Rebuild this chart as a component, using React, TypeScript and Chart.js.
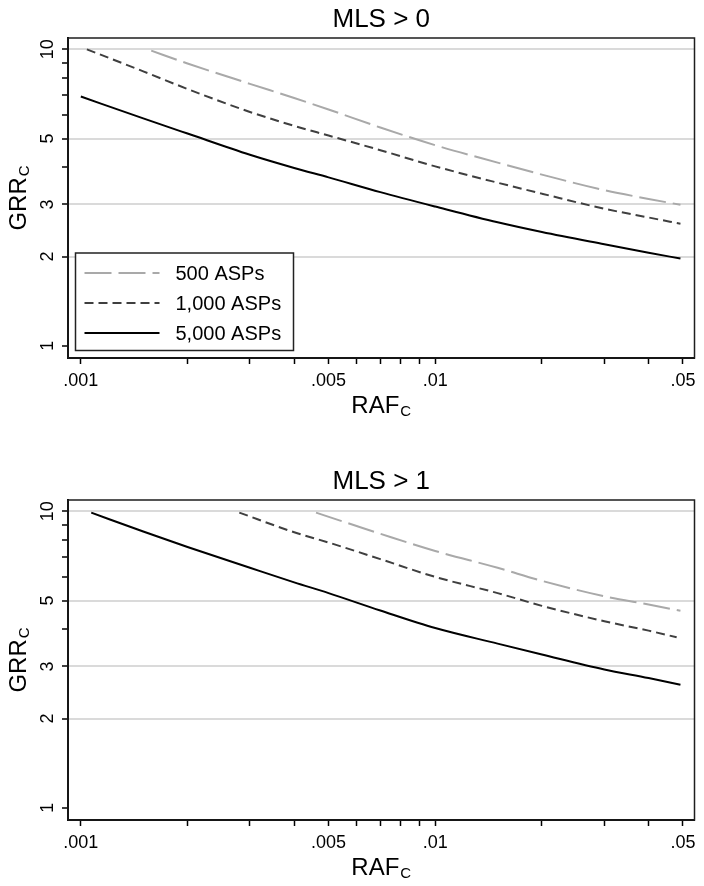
import React, { useEffect, useRef } from "react";
import { Chart, registerables } from "chart.js";

Chart.register(...registerables);

// ---------- data ----------
const SERIES_LABELS = ["500 ASPs", "1,000 ASPs", "5,000 ASPs"];

// Panel 1: MLS > 0
const TOP_TITLE = "MLS > 0";
const TOP_RAF_500 = [0.00158, 0.002, 0.003, 0.004, 0.005, 0.007, 0.01, 0.015, 0.02, 0.03, 0.04, 0.0492];
const TOP_GRR_500 = [9.9, 8.96, 7.65, 6.85, 6.27, 5.45, 4.75, 4.15, 3.78, 3.35, 3.13, 2.99];
const TOP_RAF_1000 = [0.00104, 0.0015, 0.002, 0.003, 0.004, 0.005, 0.007, 0.01, 0.015, 0.02, 0.03, 0.04, 0.0492];
const TOP_GRR_1000 = [10, 8.43, 7.35, 6.15, 5.52, 5.12, 4.57, 4.03, 3.55, 3.26, 2.9, 2.71, 2.58];
const TOP_RAF_5000 = [0.001, 0.0015, 0.002, 0.003, 0.004, 0.005, 0.007, 0.01, 0.015, 0.02, 0.03, 0.04, 0.0492];
const TOP_GRR_5000 = [6.93, 5.85, 5.2, 4.41, 3.98, 3.7, 3.3, 2.95, 2.61, 2.42, 2.2, 2.06, 1.97];

// Panel 2: MLS > 1
const BOTTOM_TITLE = "MLS > 1";
const BOT_RAF_500 = [0.00461, 0.006, 0.007, 0.01, 0.015, 0.02, 0.03, 0.04, 0.0492];
const BOT_GRR_500 = [9.9, 8.92, 8.4, 7.35, 6.45, 5.83, 5.17, 4.85, 4.62];
const BOT_RAF_1000 = [0.0028, 0.004, 0.005, 0.007, 0.01, 0.015, 0.02, 0.03, 0.04, 0.048];
const BOT_GRR_1000 = [9.9, 8.5, 7.85, 6.9, 6.01, 5.3, 4.8, 4.26, 3.96, 3.76];
const BOT_RAF_5000 = [0.00107, 0.0015, 0.002, 0.003, 0.004, 0.005, 0.007, 0.01, 0.015, 0.02, 0.03, 0.04, 0.0492];
const BOT_GRR_5000 = [9.9, 8.55, 7.58, 6.45, 5.76, 5.3, 4.63, 4.04, 3.58, 3.29, 2.93, 2.74, 2.6];

// axes
const X_MIN = 0.00092;
const X_MAX = 0.0539;
const Y_MIN = 0.91;
const Y_MAX = 10.92;
const X_MAJOR = [0.001, 0.005, 0.01, 0.05];
const X_MAJOR_LABELS = [".001", ".005", ".01", ".05"];
const X_MINOR = [0.002, 0.003, 0.004, 0.006, 0.007, 0.008, 0.009, 0.02, 0.03, 0.04];
const Y_MAJOR = [1, 2, 3, 5, 10];
const Y_MAJOR_LABELS = ["1", "2", "3", "5", "10"];
const Y_MINOR = [4, 6, 7, 8, 9];
const Y_GRID = [2, 3, 5, 10];
const X_TITLE = "RAF";
const Y_TITLE = "GRR";
const TITLE_SUB = "C";

// ---------- styles ----------
const FONT = '"Liberation Sans", Arial, Helvetica, sans-serif';
const SERIES_COLORS = ["#a9a9a9", "#3f3f3f", "#000000"];
const SERIES_DASH: number[][] = [[27, 7], [9, 5], []];
const SERIES_WIDTH = [2, 2, 2];

const W = 704;
const AREA_LEFT = 68;
const AREA_RIGHT = 694.5;

function drawSubTitle(ctx: CanvasRenderingContext2D, main: string, sub: string, cx: number, baseY: number) {
  ctx.font = `24px ${FONT}`;
  const w1 = ctx.measureText(main).width;
  ctx.font = `15px ${FONT}`;
  const w2 = ctx.measureText(sub).width;
  const start = cx - (w1 + w2 + 1) / 2;
  ctx.textAlign = "left";
  ctx.textBaseline = "alphabetic";
  ctx.font = `24px ${FONT}`;
  ctx.fillText(main, start, baseY);
  ctx.font = `15px ${FONT}`;
  ctx.fillText(sub, start + w1 + 1, baseY + 2.5);
}

const decorPlugin = {
  id: "decor",
  afterDraw(chart: any, _args: any, opts: any) {
    const { ctx, chartArea: a } = chart;
    ctx.save();
    // frame
    ctx.strokeStyle = "#1e1e1e";
    ctx.lineWidth = 1.5;
    ctx.strokeRect(a.left, a.top, a.right - a.left, a.bottom - a.top);
    ctx.fillStyle = "#000";
    const cx = (a.left + a.right) / 2;
    const cy = (a.top + a.bottom) / 2;
    // panel title
    ctx.font = `26px ${FONT}`;
    ctx.textAlign = "center";
    ctx.textBaseline = "alphabetic";
    ctx.fillText(opts.title, cx, a.top - 11);
    // x title
    drawSubTitle(ctx, X_TITLE, TITLE_SUB, cx, a.bottom + 55);
    // y title
    ctx.save();
    ctx.translate(26, cy);
    ctx.rotate(-Math.PI / 2);
    drawSubTitle(ctx, Y_TITLE, TITLE_SUB, 0, 0);
    ctx.restore();

    // legend
    if (opts.legend) {
      const lx = a.left + 7.5;
      const ly = a.top + 215;
      const lw = 218;
      const lh = 97.5;
      ctx.fillStyle = "#fff";
      ctx.fillRect(lx, ly, lw, lh);
      ctx.strokeStyle = "#222";
      ctx.lineWidth = 1.5;
      ctx.strokeRect(lx, ly, lw, lh);
      chart.data.datasets.forEach((ds: any, i: number) => {
        const ry = ly + 20 + i * 30;
        ctx.save();
        ctx.strokeStyle = ds.borderColor;
        ctx.lineWidth = ds.borderWidth;
        ctx.setLineDash(ds.borderDash || []);
        ctx.beginPath();
        ctx.moveTo(lx + 9, ry);
        ctx.lineTo(lx + 84, ry);
        ctx.stroke();
        ctx.restore();
        ctx.fillStyle = "#000";
        ctx.font = `20px ${FONT}`;
        ctx.textAlign = "left";
        ctx.textBaseline = "middle";
        ctx.fillText(ds.label, lx + 100, ry + 1);
      });
    }
    ctx.restore();
  },
};

type PanelProps = {
  title: string;
  xs: number[][];
  ys: number[][];
  height: number;
  areaTop: number;
  areaBottom: number;
  showLegend: boolean;
};

function Panel({ title, xs, ys, height, areaTop, areaBottom, showLegend }: PanelProps) {
  const ref = useRef<HTMLCanvasElement>(null);
  useEffect(() => {
    const canvas = ref.current!;
    const datasets = SERIES_LABELS.map((label, i) => ({
      label,
      data: xs[i].map((x, j) => ({ x, y: ys[i][j] })),
      borderColor: SERIES_COLORS[i],
      borderWidth: SERIES_WIDTH[i],
      borderDash: SERIES_DASH[i],
      borderCapStyle: "butt",
      cubicInterpolationMode: "monotone",
      pointRadius: 0,
      fill: false,
    }));
    const chart = new Chart(canvas, {
      type: "line",
      data: { datasets } as any,
      plugins: [decorPlugin as any],
      options: {
        responsive: false,
        animation: false,
        events: [],
        layout: { padding: { top: areaTop, right: W - AREA_RIGHT, left: 0, bottom: 0 } },
        plugins: {
          legend: { display: false },
          tooltip: { enabled: false },
          decor: { title, legend: showLegend },
        } as any,
        scales: {
          x: {
            type: "logarithmic",
            min: X_MIN,
            max: X_MAX,
            bounds: "data",
            afterBuildTicks: (s: any) => {
              s.ticks = [...X_MAJOR, ...X_MINOR].sort((p, q) => p - q).map((value) => ({ value }));
            },
            afterFit: (s: any) => {
              s.height = height - areaBottom;
            },
            grid: {
              drawOnChartArea: false,
              drawTicks: true,
              tickLength: 6,
              tickColor: "#000",
              tickWidth: 1.5,
              color: "#000",
            },
            border: { display: true, color: "#000", width: 2 },
            ticks: {
              autoSkip: false,
              maxRotation: 0,
              minRotation: 0,
              padding: 6,
              color: "#000",
              font: { family: FONT, size: 18 },
              callback: (v: any) => {
                const k = X_MAJOR.indexOf(Number(v));
                return k >= 0 ? X_MAJOR_LABELS[k] : "";
              },
            },
          },
          y: {
            type: "logarithmic",
            min: Y_MIN,
            max: Y_MAX,
            bounds: "data",
            afterBuildTicks: (s: any) => {
              s.ticks = [...Y_MAJOR, ...Y_MINOR].sort((p, q) => p - q).map((value) => ({ value }));
            },
            afterFit: (s: any) => {
              s.width = AREA_LEFT;
            },
            grid: {
              drawOnChartArea: true,
              drawTicks: true,
              tickLength: 6,
              tickColor: "#000",
              tickWidth: 1.5,
              lineWidth: 2,
              color: (c: any) =>
                c.tick && Y_GRID.includes(c.tick.value) ? "#dadada" : "rgba(0,0,0,0)",
            },
            border: { display: true, color: "#000", width: 2 },
            ticks: {
              autoSkip: false,
              minRotation: 90,
              maxRotation: 90,
              crossAlign: "center",
              padding: 4,
              color: "#000",
              font: { family: FONT, size: 18 },
              callback: (v: any) => {
                const k = Y_MAJOR.indexOf(Number(v));
                return k >= 0 ? Y_MAJOR_LABELS[k] : "";
              },
            },
          },
        },
      } as any,
    });
    return () => chart.destroy();
  }, []);
  return <canvas ref={ref} width={W} height={height} style={{ display: "block" }} />;
}

export default function App() {
  return (
    <div style={{ position: "absolute", left: 0, top: 0, width: W, height: 886, background: "#fff" }}>
      <Panel
        title={TOP_TITLE}
        xs={[TOP_RAF_500, TOP_RAF_1000, TOP_RAF_5000]}
        ys={[TOP_GRR_500, TOP_GRR_1000, TOP_GRR_5000]}
        height={440}
        areaTop={38}
        areaBottom={358}
        showLegend={true}
      />
      <Panel
        title={BOTTOM_TITLE}
        xs={[BOT_RAF_500, BOT_RAF_1000, BOT_RAF_5000]}
        ys={[BOT_GRR_500, BOT_GRR_1000, BOT_GRR_5000]}
        height={446}
        areaTop={60}
        areaBottom={380}
        showLegend={false}
      />
    </div>
  );
}
